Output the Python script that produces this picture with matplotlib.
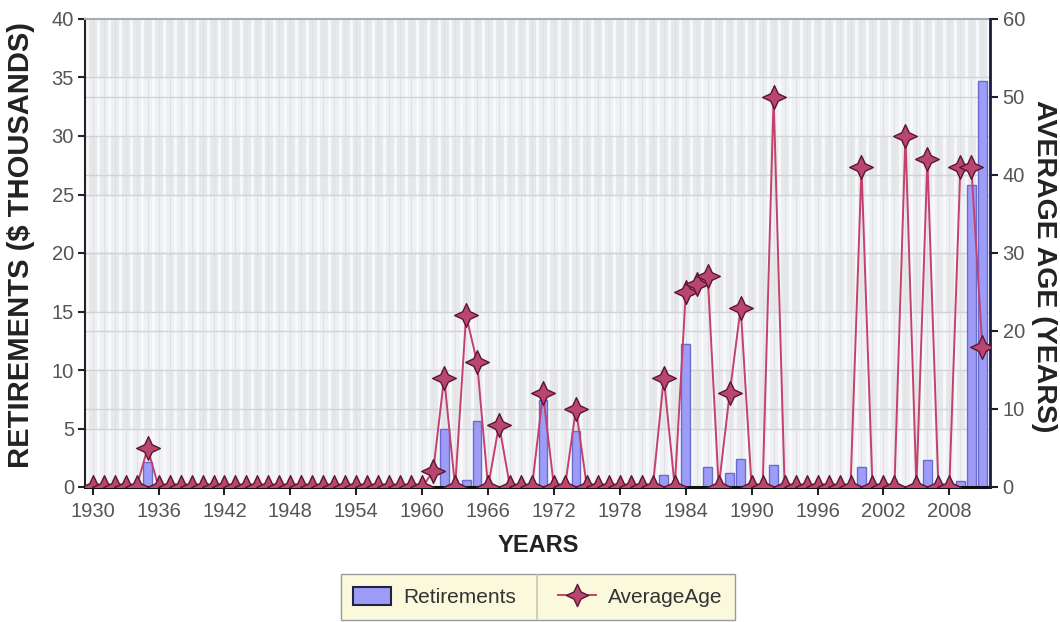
import matplotlib
matplotlib.use('Agg')
import matplotlib.pyplot as plt
from matplotlib.path import Path
from matplotlib.patches import Patch
from matplotlib.lines import Line2D
import numpy as np

plt.rcParams['font.family'] = ['Liberation Sans', 'DejaVu Sans']

# ---------------- data ----------------
years = list(range(1930, 2012))
retirements = [
    0, 0, 0, 0, 0, 2.1, 0, 0, 0, 0,        # 1930s
    0, 0, 0, 0, 0, 0, 0, 0, 0, 0,          # 1940s
    0, 0, 0, 0, 0, 0, 0, 0, 0, 0,          # 1950s
    0, 0, 5.0, 0, 0.6, 5.6, 0, 0, 0, 0,    # 1960s
    0, 7.4, 0, 0, 4.8, 0, 0, 0, 0, 0,      # 1970s
    0, 0, 1.0, 0, 12.2, 0, 1.7, 0, 1.2, 2.4,  # 1980s
    0, 0, 1.9, 0, 0, 0, 0, 0, 0, 0,        # 1990s
    1.7, 0, 0, 0, 0, 0, 2.3, 0, 0, 0.5,    # 2000s
    25.8, 34.7,                            # 2010-2011
]
average_age = [
    0, 0, 0, 0, 0, 5, 0, 0, 0, 0,          # 1930s
    0, 0, 0, 0, 0, 0, 0, 0, 0, 0,          # 1940s
    0, 0, 0, 0, 0, 0, 0, 0, 0, 0,          # 1950s
    0, 2, 14, 0, 22, 16, 0, 8, 0, 0,       # 1960s
    0, 12, 0, 0, 10, 0, 0, 0, 0, 0,        # 1970s
    0, 0, 14, 0, 25, 26, 27, 0, 12, 23,    # 1980s
    0, 0, 50, 0, 0, 0, 0, 0, 0, 0,         # 1990s
    41, 0, 0, 0, 45, 0, 42, 0, 0, 41,      # 2000s
    41, 18,                                # 2010-2011
]
x_ticks = list(range(1930, 2009, 6))
left_ticks = list(range(0, 41, 5))
right_ticks = list(range(0, 61, 10))

# ---------------- figure ----------------
W, H = 1060, 622
fig = plt.figure(figsize=(W / 100, H / 100), dpi=100)
fig.patch.set_facecolor('white')
ax = fig.add_axes([85 / W, 135 / H, 905 / W, 468 / H])
ax.set_xlim(1929.3, 2011.7)
ax.set_ylim(0, 40)
ax2 = ax.twinx()
ax2.set_ylim(0, 60)

# background: bands + grid
ax.set_facecolor('#eaebee')
band_cols = ['#eef0f3', '#e7e8ea']
for i, lo in enumerate(left_ticks[:-1]):
    ax.axhspan(lo, lo + 5, color=band_cols[i % 2], zorder=0, lw=0)
for yr in years:
    ax.axvline(yr - 0.5, color='#f8f9fb', lw=2.0, zorder=0.3)
    ax.axvline(yr, color='#e0e1e5', lw=0.8, zorder=0.3)
ax.axvline(2011.5, color='#f8f9fb', lw=2.0, zorder=0.3)
for t in left_ticks[1:-1]:
    ax.axhline(t, color='#d2d3d7', lw=1.0, zorder=0.4)
for t in right_ticks[1:-1]:
    ax.axhline(t * 40 / 60, color='#d2d3d7', lw=1.0, zorder=0.4)

# bars
bar_face = '#9d9df7'
bar_edge = '#6a6ad0'
ax.bar(years, retirements, width=0.8, color=bar_face, edgecolor=bar_edge,
       linewidth=1.0, zorder=2)

# star marker
ang = np.deg2rad(np.arange(0, 360, 45) + 90)
rad = np.array([1, 0.45] * 4)
verts = np.column_stack([rad * np.cos(ang), rad * np.sin(ang)])
verts = np.vstack([verts, verts[:1]])
codes = [Path.MOVETO] + [Path.LINETO] * 7 + [Path.CLOSEPOLY]
star = Path(verts, codes)

line_col = '#c4416c'
mfc = '#b8466f'
mec = '#5a1632'
ax2.plot(years, average_age, color=line_col, lw=1.4, marker=star,
         markersize=17, markerfacecolor=mfc, markeredgecolor=mec,
         markeredgewidth=1.0, zorder=3)

# ticks
tick_lab_col = '#555555'
ax.set_xticks(x_ticks)
ax.set_yticks(left_ticks)
ax2.set_yticks(right_ticks)
ax.tick_params(axis='x', direction='out', length=6, width=1.5, color='#222222',
               labelsize=14.5, labelcolor=tick_lab_col, pad=5)
ax.tick_params(axis='y', direction='out', length=5, width=1.5, color='#222222',
               labelsize=14.5, labelcolor=tick_lab_col, pad=3)
ax2.tick_params(axis='y', direction='out', length=6, width=1.5, color='#1c1c3c',
                labelsize=14.5, labelcolor=tick_lab_col, pad=3)
ax.grid(False)
ax2.grid(False)

# spines
for sp in ['top', 'bottom', 'left', 'right']:
    ax2.spines[sp].set_visible(False)
ax2.spines['right'].set_visible(True)
ax2.spines['right'].set_color('#1c1c3c')
ax2.spines['right'].set_linewidth(2)
ax.spines['right'].set_visible(False)
ax.spines['top'].set_color('#a9abb0')
ax.spines['top'].set_linewidth(1.5)
ax.spines['left'].set_color('#222222')
ax.spines['left'].set_linewidth(1.5)
ax.spines['bottom'].set_color('#111111')
ax.spines['bottom'].set_linewidth(2.2)
ax.spines['bottom'].set_zorder(5)

# axis titles
lab_col = '#222222'
fig.text(21 / W, 1 - 245 / H, 'RETIREMENTS ($ THOUSANDS)', rotation=90,
         fontsize=21, fontweight='bold', ha='center', va='center', color=lab_col)
fig.text(1044 / W, 1 - 266 / H, 'AVERAGE AGE (YEARS)', rotation=-90,
         fontsize=20.5, fontweight='bold', ha='center', va='center', color=lab_col)
fig.text(538 / W, 1 - 545 / H, 'YEARS', fontsize=17, fontweight='bold',
         ha='center', va='center', color=lab_col)

# legend
handles = [
    Patch(facecolor=bar_face, edgecolor='#222244', linewidth=1.5),
    Line2D([0], [0], color=line_col, lw=1.4, marker=star, markersize=16,
           markerfacecolor=mfc, markeredgecolor=mec, markeredgewidth=1.0),
]
leg = fig.legend(handles, ['Retirements', 'AverageAge'], loc='center',
                 bbox_to_anchor=(538 / W, 1 - 597 / H), ncol=2, frameon=True,
                 fancybox=False, facecolor='#fbf9dc', edgecolor='#9a9a9a',
                 fontsize=15, handlelength=1.8, handleheight=1.0,
                 columnspacing=2.0, borderpad=0.6, handletextpad=0.6,
                 framealpha=1)
for t in leg.get_texts():
    t.set_color('#333333')

fig.canvas.draw()
r = fig.canvas.get_renderer()
lb = leg.get_window_extent(r)
t0 = leg.get_texts()[0].get_window_extent(r)
colsp = 2.0 * 15 * 100 / 72
xd = t0.x1 + colsp / 2
fig.add_artist(Line2D([xd / W, xd / W], [(lb.y0 + 1) / H, (lb.y1 - 1) / H],
                      transform=fig.transFigure, color='#c9c7b0', lw=1.2,
                      zorder=10))

fig.savefig('out.png', dpi=100)
